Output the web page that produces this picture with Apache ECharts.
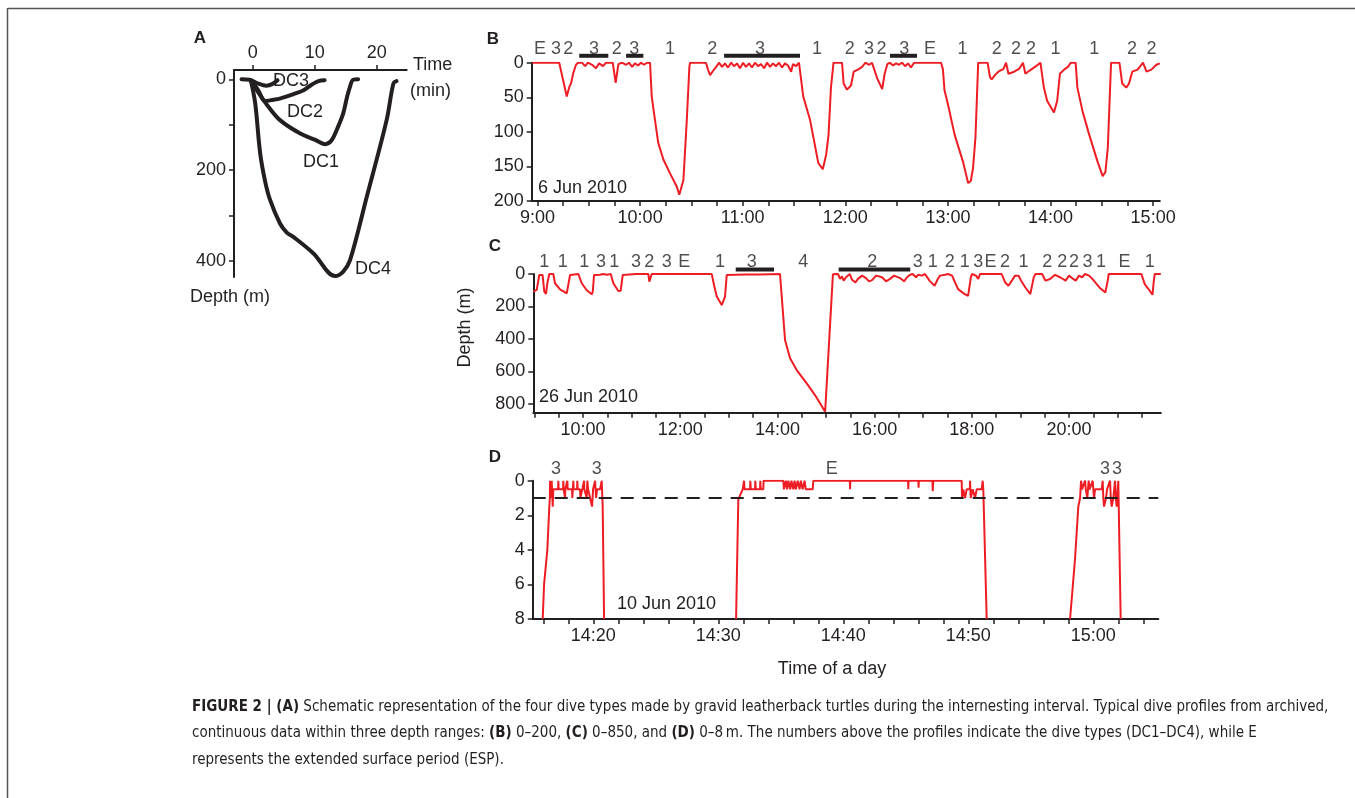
<!DOCTYPE html>
<html lang="en">
<head>
<meta charset="UTF-8">
<title>Dive profiles</title>
<script src="https://cdn.jsdelivr.net/npm/echarts@6.0.0/dist/echarts.min.js"></script>
<style>
  html, body { margin: 0; padding: 0; background: #fff; }
  #viz { width: 1355px; height: 798px; }
</style>
</head>
<body>
<div id="viz"></div>
<script>
// ---- A: schematic dive types (time in min, depth in m)
const dc1 = [[-0.3,3],[1.2,35],[2.5,60],[4.4,90],[7.6,119],[10,133],[11.7,143],[12.7,135],[13.6,110],[14.6,75],[15.2,40],[15.7,16],[16.2,1],[17,0]];
const dc2 = [[-0.3,3],[0.8,22],[2,48],[3,46],[4.5,42],[6.5,33],[8.2,24],[9.5,12],[10.6,4],[11.6,2]];
const dc3 = [[-1.8,0],[-0.5,1],[0.8,9],[2.2,14],[3.2,10],[4.0,2]];
const dc4 = [[-0.3,3],[0.4,53],[1.2,163],[2,225],[2.8,266],[4.4,318],[5.5,338],[6.5,347],[9.8,384],[13.3,434],[14.6,424],[15.7,399],[18.4,259],[21.6,90],[22.7,9],[23.2,4]];

// ---- B: 6 Jun 2010 (time in minutes after midnight, depth in m)
const bTrace = [[537,0],[552.7,0],[557.1,49],[558.6,35],[559.6,30],[560.9,15],[562.5,3],[563.7,0],[566.0,0],[567.8,5],[569.5,0],[571.9,3],[574.2,8],[576.0,1],[578.3,5],[580.1,0],[584.0,0],[585.7,29],[587.3,2],[589.4,0],[591.8,3],[593.5,0],[595.3,6],[597.0,1],[598.8,4],[600.5,0],[602.3,3],[604.0,0],[605.8,0],[606.8,49],[608.7,83],[610.6,116],[613.6,140],[617.5,160],[621.4,179],[622.9,191],[623.9,191],[625.3,170],[627.3,83],[628.8,6],[629.2,0],[638.5,0],[639.7,10],[640.9,18],[642.6,12],[644.8,5],[646.1,0],[647.9,6],[649.6,1],[651.4,7],[653.2,0],[654.9,5],[656.7,1],[658.4,8],[660.2,0],[661.9,6],[663.7,1],[665.4,7],[667.2,0],[669.0,5],[670.7,2],[672.5,8],[674.2,0],[676.0,6],[677.7,1],[679.5,5],[681.2,0],[683.0,7],[684.7,1],[686.5,4],[688.3,13],[689.4,2],[691.2,5],[692.9,0],[693.5,0],[695.4,49],[699.4,83],[704.2,145],[706.8,154],[708.8,133],[710.2,104],[711.6,36],[713.1,0],[718.1,0],[719.0,30],[721.0,39],[723.3,33],[724.9,13],[727.4,10],[729.8,6],[731.8,0],[733.9,3],[735.6,0],[738.7,23],[741.6,38],[743.0,16],[744.6,2],[746.1,0],[747.9,4],[749.6,1],[751.4,3],[753.2,0],[754.9,5],[756.7,1],[758.4,7],[760.2,0],[761.3,0],[776.0,0],[777.1,10],[778.0,40],[780.0,60],[783.9,104],[788.8,143],[791.8,174],[793.4,171],[794.7,152],[796.1,108],[797.7,0],[803.2,0],[804.6,21],[805.6,24],[807.5,18],[809.5,13],[812.5,9],[814.0,0],[815.4,16],[818.7,13],[821.6,9],[823.9,0],[825.3,16],[828.0,11],[830.9,6],[834.1,0],[835.0,0],[836.1,36],[838.0,55],[842.0,72],[843.9,55],[845.5,16],[847.9,10],[850.2,6],[851.8,0],[854.7,0],[855.7,36],[858.7,70],[862.6,104],[867.5,143],[870.5,164],[872.1,158],[873.5,123],[875.4,0],[880.3,0],[881.9,30],[884.3,36],[885.9,30],[887.8,13],[890.9,10],[894.1,0],[896.1,13],[899.0,10],[901.9,3],[903.9,1]];
const bTypes = [[541.5,'E'],[550.8,'3'],[558.0,'2'],[573.0,'3'],[586.3,'2'],[596.6,'3'],[617.5,'1'],[642.2,'2'],[670.1,'3'],[703.5,'1'],[722.6,'2'],[733.8,'3'],[741.2,'2'],[754.4,'3'],[769.5,'E'],[788.5,'1'],[808.5,'2'],[819.8,'2'],[828.6,'2'],[842.9,'1'],[865.6,'1'],[887.6,'2'],[899.0,'2']];
const bBars = [[564.4,581.4],[591.8,601.9],[649.1,693.5],[746.1,761.9]];
const bTicks = [540,555,570,585,600,615,630,645,660,675,690,705,720,735,750,765,780,795,810,825,840,855,870,885,900];
const bLabels = [540,600,660,720,780,840,900];

// ---- C: 26 Jun 2010
const cTrace = [[538.6,109],[542.8,98],[546.0,6],[548.1,0],[550.0,6],[552.2,109],[554.3,123],[555.9,57],[558.4,0],[563.3,0],[565.4,57],[571.6,94],[579.9,119],[581.9,109],[584.0,6],[585.2,0],[594.2,0],[598.4,57],[604.6,100],[610.7,125],[612.0,109],[613.6,6],[614.8,0],[621.0,5],[624.7,0],[629.6,4],[634.2,0],[637.4,57],[643.6,105],[646.5,103],[649.0,6],[650.6,0],[665.4,0],[666.3,10],[667.3,0],[680.6,0],[681.9,47],[683.6,47],[684.8,0],[702.8,0],[703.3,10],[703.8,0],[758.9,0],[761.7,68],[765.1,139],[771.2,191],[773.2,197],[775.3,139],[777.4,6],[779.4,0],[800.0,3],[801.2,0],[818.5,3],[819.8,0],[843.2,0],[849.4,406],[855.6,519],[863.8,591],[876.2,673],[886.4,745],[892.6,796],[898.9,848],[908.5,2],[910.1,0],[914.8,0],[917.3,30],[919.7,15],[921.7,41],[924.7,20],[929.3,0],[932.1,35],[936.3,52],[939.5,30],[944.5,10],[946.9,0],[949.4,25],[953.1,45],[956.8,38],[961.8,10],[964.2,0],[969.2,20],[974.1,45],[979.0,30],[984.0,10],[986.4,0],[991.4,25],[996.3,45],[1000.0,20],[1003.7,5],[1006.9,0],[1011.1,20],[1013.6,5],[1018.5,10],[1022.2,0],[1027.7,41],[1034.0,72],[1038.0,31],[1040.8,10],[1043.2,20],[1047.0,5],[1050.6,0],[1055.6,10],[1063.0,93],[1071.2,124],[1075.4,134],[1078.8,21],[1080.2,0],[1085.2,10],[1087.9,31],[1090.1,0],[1116.9,0],[1121.1,52],[1125.3,72],[1129.4,41],[1133.3,10],[1137.7,10],[1140.7,40],[1146.1,83],[1152.2,124],[1156.4,21],[1158.5,0],[1166.7,0],[1171.0,41],[1176.6,31],[1182.7,5],[1188.9,20],[1195.8,41],[1200.0,10],[1203.7,25],[1208.3,41],[1212.3,10],[1216.1,20],[1219.8,0],[1224.7,10],[1229.0,31],[1237.5,83],[1244.8,114],[1247.8,41],[1249.0,0],[1289.3,0],[1293.5,62],[1299.6,103],[1303.0,128],[1304.7,41],[1305.9,0],[1313.3,0]];
const cTypes = [[552.2,'1'],[574.9,'1'],[601.6,'1'],[622.2,'3'],[638.6,'1'],[665.4,'3'],[681.9,'2'],[703.3,'3'],[725.1,'E'],[769.1,'1'],[808.3,'3'],[872.0,'4'],[957.0,'2'],[1013.1,'3'],[1031.9,'1'],[1052.6,'2'],[1071.2,'1'],[1087.9,'3'],[1103.2,'E'],[1121.1,'2'],[1143.9,'1'],[1173.0,'2'],[1191.7,'2'],[1206.2,'2'],[1222.9,'3'],[1239.5,'1'],[1268.5,'E'],[1299.6,'1']];
const cBars = [[788.5,835.8],[915.6,1004.0]];
const cTicks = [540,570,600,630,660,690,720,750,780,810,840,870,900,930,960,990,1020,1050,1080,1110,1140,1170,1200,1230,1260,1290];
const cLabels = [600,720,840,960,1080,1200];

// ---- D: 10 Jun 2010 (minutes after 14:00, depth in m)
const dTrace1 = [[15.95,8],[16.06,6],[16.16,6],[16.32,4],[16.48,1.5],[16.52,1],[16.54,0],[16.62,1],[16.67,0],[16.75,1.5],[16.80,0.5],[17.18,0.5],[17.20,0],[17.23,0.5],[17.58,0.5],[17.60,0],[17.63,0.5],[17.71,0.5],[17.74,1],[17.76,0.5],[17.90,0.5],[17.92,0],[17.95,0.5],[18.30,0.5],[18.32,1],[18.38,1],[18.40,0],[18.43,0.5],[18.70,0.5],[18.72,0],[18.75,0.5],[18.94,0.5],[18.96,1],[19.10,1],[19.12,0.5],[19.23,0.5],[19.26,0],[19.28,0.5],[19.44,0.5],[19.47,1],[19.52,0],[19.58,0.5],[19.74,1],[19.90,1.5],[19.98,0.5],[20.10,0.5],[20.14,0],[20.22,1],[20.30,0.5],[20.54,0.5],[20.67,0],[20.75,1.5],[20.86,8]];
const dTrace2 = [[31.42,8],[31.60,1.08],[31.74,1],[31.95,0.5],[32.06,0],[32.10,0.5],[32.54,0.5],[32.56,0],[32.60,0.5],[32.94,0.5],[32.96,0],[33.0,0.5],[33.34,0.5],[33.36,0],[33.40,0.5],[33.6,0.5],[33.62,0],[35.2,0],[35.25,0.5],[35.4,0],[35.5,0.5],[35.6,0],[35.75,0.5],[35.85,0],[36.0,0.5],[36.1,0],[36.2,0.5],[36.35,0],[36.5,0.5],[36.6,0],[36.75,0.5],[36.9,0],[37.0,0.5],[37.55,0.5],[37.6,0],[40.52,0],[40.54,0.5],[40.56,0],[45.18,0],[45.2,0.5],[45.22,0],[46.0,0],[46.02,0.4],[46.04,0],[47.13,0],[47.15,0.6],[47.2,0],[49.47,0],[49.5,1],[49.6,0.5],[49.74,1],[49.87,0.5],[50.12,0.5],[50.14,0],[50.19,1],[50.35,0.5],[50.54,1],[50.67,0.5],[51.07,0.5],[51.15,0],[51.2,0.5],[51.34,0.5],[51.47,8]];
const dTrace3 = [[58.14,8],[58.4,5.74],[58.54,4.5],[58.8,1.5],[58.94,1],[59.02,0],[59.1,0.5],[59.2,0.5],[59.34,0],[59.4,0.5],[59.52,1],[59.63,0],[59.7,0.5],[59.74,0.5],[59.95,0],[60.0,0.5],[60.06,1],[60.14,0.5],[60.67,0.5],[60.75,0],[60.8,1],[60.86,1.5],[61.02,1],[61.1,0.5],[61.2,0.5],[61.34,0],[61.4,1],[61.47,1.5],[61.6,1],[61.74,0],[61.8,1],[61.87,1.5],[62.0,0],[62.19,8]];
const dTypes = [[17.02,'3'],[20.27,'3'],[39.07,'E'],[60.94,'3'],[61.9,'3']];
const dTicks = [16,18,20,22,24,26,28,30,32,34,36,38,40,42,44,46,48,50,52,54,56,58,60,62,64];
const dLabels = [20,30,40,50,60];
const surfaceLine = 1;

const INK = '#231f20';
const RED = '#ee1d23';
const FONT = '"Liberation Sans", Arial, Helvetica, sans-serif';
const pad = n => String(n).padStart(2, '0');
const clock = m => Math.floor(m / 60) + ':' + pad(Math.round(m % 60));

const makeAxis = (grid, min, max, ticks, labels, fmt, more) => Object.assign({
    type: 'value', gridIndex: grid, min, max,
    splitLine: { show: false },
    axisLine: { show: true, onZero: false, lineStyle: { color: INK, width: 2 } },
    axisTick: { show: true, length: 5, customValues: ticks, lineStyle: { color: INK, width: 1.5 } },
    axisLabel: { show: true, customValues: labels, formatter: fmt, color: INK, fontSize: 18, fontFamily: FONT, margin: 8 }
}, more || {});

const trace = (i, data) => ({
    type: 'line', xAxisIndex: i, yAxisIndex: i, data, showSymbol: false, symbol: 'none',
    lineStyle: { color: RED, width: 2 }, silent: true, z: 3
});
const schematic = (data) => ({
    type: 'line', xAxisIndex: 0, yAxisIndex: 0, data, showSymbol: false, symbol: 'none', smooth: 0.35,
    lineStyle: { color: INK, width: 4, cap: 'round', join: 'round' }, silent: true, clip: false
});
const typeLabels = (i, rows, dist) => ({
    type: 'scatter', xAxisIndex: i, yAxisIndex: i, symbolSize: 0, silent: true, clip: false,
    data: rows.map(r => [r[0], 0, r[1]]),
    label: { show: true, position: 'top', distance: dist, formatter: p => p.value[2], color: INK, fontSize: 18, fontFamily: FONT }
});
const runBars = (i, rows, lift) => rows.map(r => ({
    type: 'line', xAxisIndex: i, yAxisIndex: i, symbol: 'none', showSymbol: false, clip: false, silent: true,
    data: [[r[0], lift], [r[1], lift]],
    lineStyle: { color: INK, width: 4 }
}));

const txt = (x, y, text, opts) => ({
    type: 'text', x, y, silent: true,
    style: Object.assign({ text, fill: INK, font: '18px ' + FONT, align: 'left', verticalAlign: 'middle' }, opts || {})
});
const capFont = '"Liberation Sans Narrow", "DejaVu Sans Condensed", "Arial Narrow", sans-serif';
const capLine = (y, text) => ({
    type: 'text', x: 192, y, silent: true,
    style: { text, fill: INK, fontSize: 15, fontFamily: capFont, verticalAlign: 'middle',
        rich: { b: { fontWeight: 'bold', fontSize: 15, fontFamily: capFont, fill: INK } } }
});

const option = {
    animation: false,
    backgroundColor: '#fff',
    grid: [
        { left: 234, top: 70, width: 172.7, height: 207, outerBoundsMode: 'none' },
        { left: 531.7, top: 62.7, width: 628.1, height: 138.3, outerBoundsMode: 'none' },
        { left: 533.3, top: 274, width: 627.5, height: 138.7, outerBoundsMode: 'none' },
        { left: 532.7, top: 480.7, width: 625.6, height: 138.3, outerBoundsMode: 'none' }
    ],
    xAxis: [
        makeAxis(0, -3.02, 24.84, [0, 10, 20], [0, 10, 20], null, { position: 'top' }),
        makeAxis(1, 536.6, 903.9, bTicks, bLabels, clock),
        makeAxis(2, 538.6, 1313.3, cTicks, cLabels, clock),
        makeAxis(3, 15.15, 65.2, dTicks, dLabels, v => clock(840 + v))
    ],
    yAxis: [
        makeAxis(0, -20.5, 436, [0, 100, 200, 300, 400], [0, 200, 400], null, { inverse: true }),
        makeAxis(1, 0, 200, [0, 50, 100, 150, 200], [0, 50, 100, 150, 200], null, { inverse: true }),
        makeAxis(2, 0, 853.5, [0, 200, 400, 600, 800], [0, 200, 400, 600, 800], null, { inverse: true }),
        makeAxis(3, 0, 8, [0, 2, 4, 6, 8], [0, 2, 4, 6, 8], null, { inverse: true })
    ],
    series: [
        schematic(dc1), schematic(dc2), schematic(dc3), schematic(dc4),
        trace(1, bTrace), typeLabels(1, bTypes, 5), ...runBars(1, bBars, -10),
        trace(2, cTrace), typeLabels(2, cTypes, 2.5), ...runBars(2, cBars, -28),
        Object.assign(trace(3, dTrace1), {
            markLine: {
                silent: true, symbol: 'none', label: { show: false },
                lineStyle: { color: INK, width: 2, type: [13, 9] },
                data: [{ yAxis: surfaceLine }]
            }
        }),
        trace(3, dTrace2), trace(3, dTrace3), typeLabels(3, dTypes, 2.5)
    ],
    graphic: [
        { type: 'line', silent: true, shape: { x1: 8, y1: 8.5, x2: 1355, y2: 8.5 }, style: { stroke: '#555', lineWidth: 1.5 } },
        { type: 'line', silent: true, shape: { x1: 7.5, y1: 8, x2: 7.5, y2: 798 }, style: { stroke: '#555', lineWidth: 1.5 } },
        txt(200, 38, 'A', { font: 'bold 17px Arial, ' + FONT, align: 'center' }),
        txt(493, 39, 'B', { font: 'bold 17px Arial, ' + FONT, align: 'center' }),
        txt(495, 246, 'C', { font: 'bold 17px Arial, ' + FONT, align: 'center' }),
        txt(495, 457.5, 'D', { font: 'bold 17px Arial, ' + FONT, align: 'center' }),
        txt(413, 65, 'Time'),
        txt(410, 91, '(min)'),
        txt(273, 81, 'DC3'),
        txt(287, 111.7, 'DC2'),
        txt(303, 162.5, 'DC1'),
        txt(355, 269, 'DC4'),
        txt(190, 297, 'Depth (m)'),
        txt(538, 187.7, '6 Jun 2010'),
        txt(539, 396.7, '26 Jun 2010'),
        txt(617, 604, '10 Jun 2010'),
        { type: 'text', x: 465, y: 327.5, rotation: Math.PI / 2, silent: true,
          style: { text: 'Depth (m)', fill: INK, font: '18px ' + FONT, align: 'center', verticalAlign: 'middle' } },
        txt(832, 669, 'Time of a day', { align: 'center' }),
        capLine(707, '{b|FIGURE 2 | (A)} Schematic representation of the four dive types made by gravid leatherback turtles during the internesting interval. Typical dive profiles from archived,'),
        capLine(733.5, 'continuous data within three depth ranges: {b|(B)} 0–200, {b|(C)} 0–850, and {b|(D)} 0–8\u2009m. The numbers above the profiles indicate the dive types (DC1–DC4), while E'),
        capLine(760, 'represents the extended surface period (ESP).')
    ]
};

const chart = echarts.init(document.getElementById('viz'), null, { renderer: 'canvas' });
chart.setOption(option);
window.onresize = () => chart.resize();
</script>
</body>
</html>
